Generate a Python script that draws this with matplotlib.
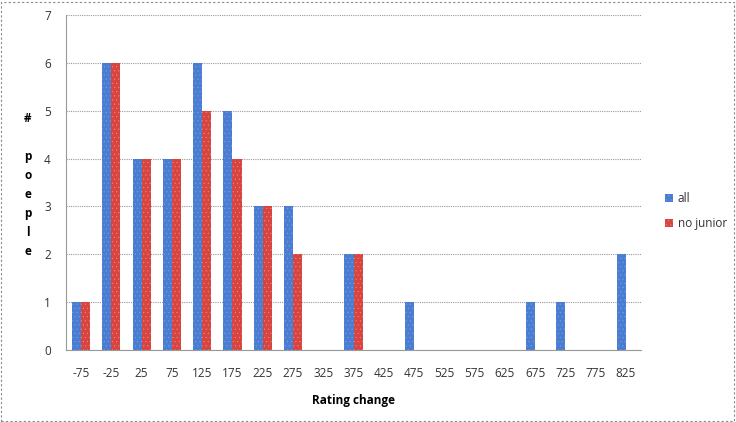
import matplotlib
matplotlib.use("Agg")
import matplotlib.pyplot as plt
import numpy as np
from matplotlib.patches import Rectangle

categories = ["-75", "-25", "25", "75", "125", "175", "225", "275", "325", "375",
              "425", "475", "525", "575", "625", "675", "725", "775", "825"]
all_vals = [1, 6, 4, 4, 6, 5, 3, 3, 0, 2, 0, 1, 0, 0, 0, 1, 1, 0, 2]
nojunior_vals = [1, 6, 4, 4, 5, 4, 3, 2, 0, 2, 0, 0, 0, 0, 0, 0, 0, 0, 0]
series_names = ["all", "no junior"]
yticks = [0, 1, 2, 3, 4, 5, 6, 7]

plt.rcParams['font.family'] = ['Open Sans', 'DejaVu Sans']
plt.rcParams['hatch.linewidth'] = 0.3

W, H = 736, 422
fig = plt.figure(figsize=(W / 100, H / 100), dpi=100)
ax = fig.add_axes([66 / W, 1 - 350 / H, (641 - 66) / W, (350 - 15) / H])

x = np.arange(len(categories))
bw = 0.3
blue = "#4a7dd2"
red = "#d8443f"
ax.bar(x - bw / 2, all_vals, width=bw, color=blue, edgecolor="#7aa0e0", linewidth=0,
       hatch="....", label=series_names[0], zorder=3)
ax.bar(x + bw / 2, nojunior_vals, width=bw, color=red, edgecolor="#e88a86", linewidth=0,
       hatch="....", label=series_names[1], zorder=3)

ax.set_xlim(-0.5, len(categories) - 0.5)
ax.set_ylim(0, 7)
ax.set_yticks(yticks)
ax.set_xticks(x)
ax.set_xticklabels(categories)
ax.tick_params(axis='both', length=0, labelsize=8.5, colors="#333333")
ax.tick_params(axis='x', pad=12)
ax.tick_params(axis='y', pad=11)
ax.grid(axis='y', color="#999999", linestyle=(0, (1, 1)), linewidth=0.8, zorder=0)
for s in ["top", "right"]:
    ax.spines[s].set_visible(False)
ax.spines["left"].set_color("#999999")
ax.spines["bottom"].set_color("#999999")

ax.set_xlabel("Rating change", fontsize=8.5, fontweight="bold", labelpad=10)
fig.text(28 / W, 1 - 185 / H, "#\n\np\no\ne\np\nl\ne", ha="center", va="center",
         fontsize=8.5, fontweight="bold", linespacing=1.6)

leg = ax.legend(loc="center left", bbox_to_anchor=(654 / W, 1 - 211 / H),
                bbox_transform=fig.transFigure, frameon=False, fontsize=8.5,
                handlelength=0.7, handleheight=0.7, handletextpad=0.4, labelspacing=1.0)
for t in leg.get_texts():
    t.set_color("#333333")

fig.patches.append(Rectangle((1 / W, 1 / H), (W - 3) / W, (H - 3) / H, transform=fig.transFigure,
                             fill=False, edgecolor="#888888", linestyle=(0, (2, 2)), linewidth=0.8))

fig.savefig("out.png", dpi=100)
